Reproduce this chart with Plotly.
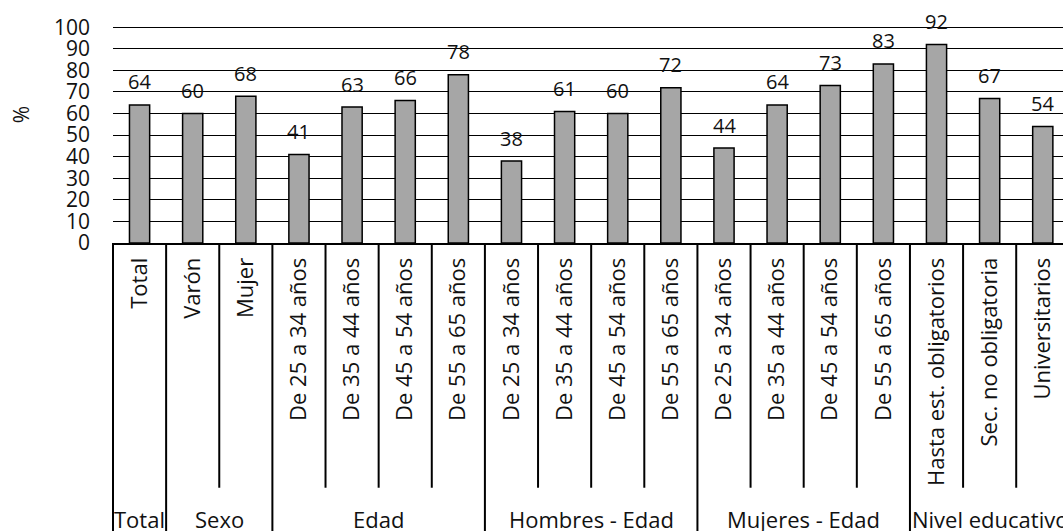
import plotly.graph_objects as go

# ---- data ----
categories = [
    "Total", "Varón", "Mujer",
    "De 25 a 34 años", "De 35 a 44 años", "De 45 a 54 años", "De 55 a 65 años",
    "De 25 a 34 años", "De 35 a 44 años", "De 45 a 54 años", "De 55 a 65 años",
    "De 25 a 34 años", "De 35 a 44 años", "De 45 a 54 años", "De 55 a 65 años",
    "Hasta est. obligatorios", "Sec. no obligatoria", "Universitarios",
]
values = [64, 60, 68, 41, 63, 66, 78, 38, 61, 60, 72, 44, 64, 73, 83, 92, 67, 54]
groups = ["Total", "Sexo", "Edad", "Hombres - Edad", "Mujeres - Edad", "Nivel educativo"]
group_sizes = [1, 2, 4, 4, 4, 3]
y_ticks = list(range(0, 101, 10))
y_title = "%"

# ---- layout constants ----
W, H = 1063, 531
Y_MAX = 101.5
UNIT = 2.16                      # pixels per % point
ML, MR, MB = 113, 0, 288
PH = Y_MAX * UNIT
MT = H - MB - PH
FONT = "Open Sans"
TXT = "#111111"
WT = 400


def py(pix):
    """pixel row -> paper y"""
    return (H - MB - pix) / PH


def f(size):
    return dict(family=FONT, size=size, color=TXT, weight=WT)


x = list(range(len(categories)))

fig = go.Figure(
    go.Bar(
        x=x, y=values, width=0.38,
        marker=dict(color="#A6A6A6", line=dict(color="black", width=1.5)),
        hoverinfo="skip",
    )
)

annotations = []
for xi, v in zip(x, values):
    annotations.append(dict(
        x=xi, y=v, xref="x", yref="y", text=str(v), showarrow=False,
        yanchor="middle", yshift=23, font=f(20),
    ))

shapes = []
group_edges = []
start = 0
for name, n in zip(groups, group_sizes):
    group_edges.append(start - 0.5)
    center = start + (n - 1) / 2
    annotations.append(dict(
        x=center, y=py(519), xref="x", yref="paper", text=name, showarrow=False,
        yanchor="middle", xanchor="center", font=f(22),
    ))
    start += n

for i in range(1, len(categories)):
    b = i - 0.5
    full = b in group_edges
    shapes.append(dict(
        type="line", xref="x", yref="paper", x0=b, x1=b,
        y0=0, y1=py(540) if full else py(488),
        line=dict(color="black", width=2),
    ))
shapes.append(dict(
    type="line", xref="paper", yref="paper", x0=0, x1=0, y0=0, y1=py(540),
    line=dict(color="black", width=2),
))

annotations.append(dict(
    x=(21 - ML) / (W - ML - MR), y=py(115), xref="paper", yref="paper",
    xanchor="center", yanchor="middle",
    text=y_title, textangle=-90, showarrow=False, font=f(21),
))

fig.update_layout(
    width=W, height=H,
    margin=dict(l=ML, r=MR, t=MT, b=MB, pad=0),
    paper_bgcolor="white", plot_bgcolor="white",
    showlegend=False,
    font=f(20),
    xaxis=dict(
        range=[-0.5, -0.5 + (W - ML - MR) / 53.13],
        tickmode="array", tickvals=x, ticktext=categories,
        tickangle=-90, ticks="", ticklabelstandoff=4,
        tickfont=f(22),
        showgrid=False, zeroline=False,
        showline=True, linecolor="black", linewidth=2,
    ),
    yaxis=dict(
        range=[0, Y_MAX], tickmode="array", tickvals=y_ticks,
        showgrid=True, gridcolor="black", gridwidth=1.2,
        zeroline=False, showline=False, ticks="",
        ticklabelstandoff=22,
        tickfont=f(21),
    ),
    annotations=annotations,
    shapes=shapes,
)

fig.write_html("out.html")
